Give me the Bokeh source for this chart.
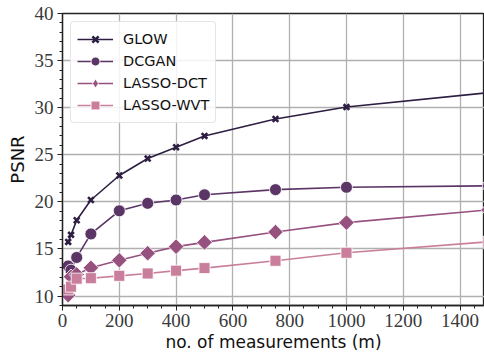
import math
from bokeh.plotting import figure
from bokeh.models import (Range1d, Legend, LegendItem, ColumnDataSource, FixedTicker,
                          CDSView, IndexFilter)
from bokeh.embed import file_html
from bokeh.resources import INLINE

# data
glow_m = [20, 30, 50, 100, 200, 300, 400, 500, 750, 1000, 1500]
glow_psnr = [15.75, 16.5, 18.05, 20.2, 22.8, 24.6, 25.8, 27.0, 28.8, 30.07, 31.6]
dcgan_m = [20, 30, 50, 100, 200, 300, 400, 500, 750, 1000, 1500]
dcgan_psnr = [13.2, 12.75, 14.1, 16.6, 19.05, 19.85, 20.2, 20.75, 21.3, 21.55, 21.7]
dct_m = [20, 30, 50, 100, 200, 300, 400, 500, 750, 1000, 1500]
dct_psnr = [10.1, 12.05, 12.3, 13.0, 13.8, 14.55, 15.25, 15.7, 16.8, 17.8, 19.15]
wvt_m = [20, 30, 50, 100, 200, 300, 400, 500, 750, 1000, 1500]
wvt_psnr = [10.7, 11.0, 11.85, 11.9, 12.15, 12.4, 12.7, 12.97, 13.75, 14.6, 15.76]

labels = ["GLOW", "DCGAN", "LASSO-DCT", "LASSO-WVT"]
colors = ["#2d1e42", "#5c3567", "#97517f", "#c97f9b"]

p = figure(width=484, height=356, output_backend="svg", toolbar_location=None,
           x_range=Range1d(0, 1486), y_range=Range1d(9, 40))
p.min_border_left = 62
p.min_border_right = 0
p.min_border_top = 13
p.min_border_bottom = 51
p.background_fill_color = "white"
p.border_fill_color = "white"
p.outline_line_color = "#222222"
p.outline_line_width = 1.3

for g in (p.xgrid[0], p.ygrid[0]):
    g.grid_line_color = "#b0b0b0"
    g.grid_line_width = 1.3

p.xaxis.ticker = FixedTicker(ticks=[0, 200, 400, 600, 800, 1000, 1200, 1400],
                             minor_ticks=list(range(0, 1500, 50)))
p.yaxis.ticker = FixedTicker(ticks=[10, 15, 20, 25, 30, 35, 40],
                             minor_ticks=list(range(9, 41)))
for ax in (p.xaxis[0], p.yaxis[0]):
    ax.axis_line_color = "#222222"
    ax.axis_line_width = 1.3
    ax.major_tick_line_color = "#222222"
    ax.minor_tick_line_color = "#222222"
    ax.major_tick_out = 5
    ax.major_tick_in = 0
    ax.minor_tick_out = 3
    ax.minor_tick_in = 0
    ax.major_label_text_font = "Liberation Serif"
    ax.major_label_text_font_size = "19px"
    ax.major_label_text_color = "#3a3a3a"
    ax.axis_label_text_font = "DejaVu Sans"
    ax.axis_label_text_font_style = "normal"
    ax.axis_label_text_color = "#111111"
p.xaxis.axis_label_text_font_size = "17px"
p.yaxis.axis_label_text_font_size = "18px"
p.xaxis.axis_label = "no. of measurements (m)"
p.yaxis.axis_label = "PSNR"
p.xaxis.major_label_standoff = 3
p.yaxis.major_label_standoff = 4
p.xaxis.axis_label_standoff = 2
p.yaxis.axis_label_standoff = 4

items = []
series = [(glow_m, glow_psnr), (dcgan_m, dcgan_psnr), (dct_m, dct_psnr), (wvt_m, wvt_psnr)]
markers = ["x", "circle", "square", "square"]
legend_markers = ["x", "circle", "diamond", "square"]
sizes = [8, 12, 11, 11]
angles = [0, 0, math.pi / 4, 0]
for (xs, ys), lab, col, mk, lmk, sz, ang in zip(series, labels, colors, markers,
                                               legend_markers, sizes, angles):
    src = ColumnDataSource(dict(x=xs, y=ys))
    r1 = p.line("x", "y", source=src, line_color=col, line_width=1.6)
    if mk == "x":
        r2 = p.scatter("x", "y", source=src, marker=mk, size=sz, line_color=col, line_width=2.6)
        leg_r = [r1, r2]
    else:
        r3 = None
        if lmk != mk:
            # legend-only diamond, hidden beneath the first rotated-square marker
            r3 = p.scatter("x", "y", source=src, marker=lmk, size=sz + 2, fill_color=col,
                           line_color="white", line_width=0.8,
                           view=CDSView(filter=IndexFilter([0])))
        r2 = p.scatter("x", "y", source=src, marker=mk, size=sz, angle=ang, fill_color=col,
                       line_color="white", line_width=0.8)
        leg_r = [r1, r3] if r3 is not None else [r1, r2]
    items.append(LegendItem(label=lab, renderers=leg_r))

legend = Legend(items=items, location="top_left")
legend.label_text_font = "DejaVu Sans"
legend.label_text_font_size = "14.5px"
legend.label_text_color = "#111111"
legend.border_line_color = "#cccccc"
legend.border_line_width = 1
legend.border_radius = 4
legend.background_fill_alpha = 0.85
legend.glyph_width = 36
legend.label_standoff = 10
legend.spacing = 0
legend.padding = 6
legend.margin = 8
legend.label_height = 22
legend.glyph_height = 22
p.add_layout(legend)

open("out.html", "w").write(file_html(p, INLINE))
